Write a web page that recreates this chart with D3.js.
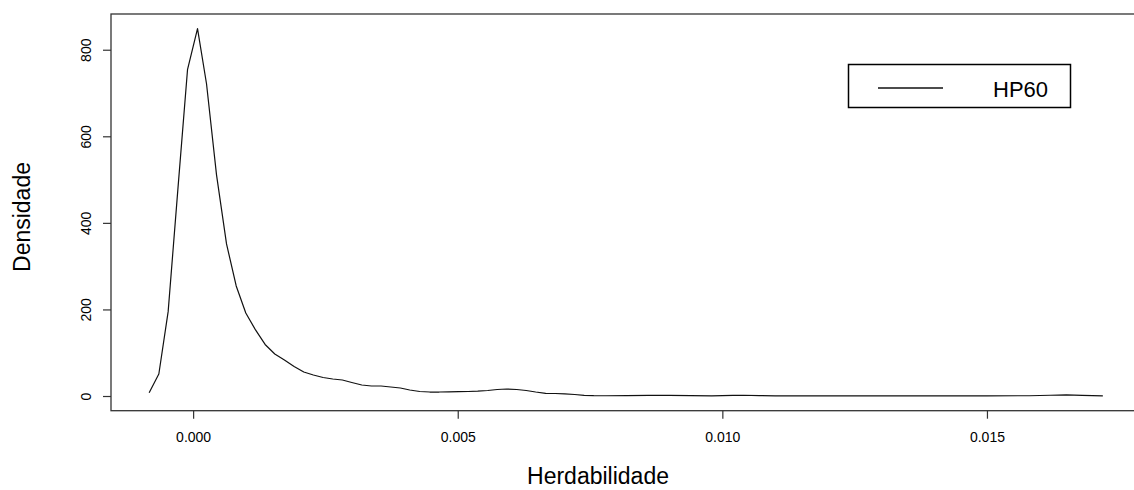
<!DOCTYPE html>
<html>
<head>
<meta charset="utf-8">
<script src="https://cdn.jsdelivr.net/npm/d3@7"></script>
<style>
  html, body { margin: 0; padding: 0; background: #fff; }
  svg text { font-family: "Liberation Sans", Arial, sans-serif; fill: #000; }
</style>
</head>
<body>
<div id="chart"></div>
<script>
// Density estimate of heritability (HP60)
const herdabilidade = [
  -0.000831, -0.000648, -0.000472, -0.000289, -0.000106, 0.000083, 0.000253, 0.000442,
  0.000631, 0.000814, 0.000995, 0.001179, 0.00136, 0.001543, 0.001725, 0.001908,
  0.002091, 0.002272, 0.002456, 0.002639, 0.00282, 0.002998, 0.003187, 0.00337,
  0.003551, 0.003734, 0.003916, 0.004093, 0.004282, 0.004471, 0.004651, 0.00483,
  0.005019, 0.005198, 0.005378, 0.005567, 0.005746, 0.005926, 0.006115, 0.006294,
  0.006473, 0.006662, 0.006842, 0.007021, 0.00721, 0.00739, 0.007569,
  0.0078, 0.0082, 0.0086, 0.009, 0.0094, 0.0098, 0.0102, 0.0104, 0.0107, 0.011,
  0.012, 0.013, 0.014, 0.015, 0.0158, 0.0162, 0.0165, 0.0168, 0.01719
];
const densidade = [
  7.6, 50.9, 194.9, 476.3, 753.8, 848.6, 721.4, 511,
  351.4, 254.3, 191.9, 152.6, 119.1, 97.1, 83.2, 68.2,
  55.5, 48.6, 42.8, 39.3, 37, 31.2, 25.4, 23.1,
  23.1, 20.8, 18.5, 13.9, 10.4, 9.2, 9.2, 9.7,
  9.9, 10.4, 11.1, 12.7, 15, 16.2, 15, 12.7,
  9.2, 6.2, 5.8, 5.1, 3.5, 1.6, 0.7,
  0.6, 1.0, 1.6, 1.4, 0.9, 0.5, 1.5, 1.8, 1.0, 0.4,
  0.5, 0.5, 0.5, 0.5, 0.6, 1.8, 2.5, 1.5, 0.5
];
const xTicks = [0, 0.005, 0.01, 0.015];
const yTicks = [0, 200, 400, 600, 800];
const serieNome = 'HP60';

const width = 1134, height = 490;
const plot = { left: 111, top: 14, right: 1141, bottom: 410.7 };

const svg = d3.select('#chart')
  .append('svg')
  .attr('width', width)
  .attr('height', height)
  .style('display', 'block')
  .style('background', '#fff');

// R-style 4% padding around the data range
function padded(ext) {
  const d = (ext[1] - ext[0]) * 0.04;
  return [ext[0] - d, ext[1] + d];
}

const x = d3.scaleLinear()
  .domain(padded(d3.extent(herdabilidade)))
  .range([plot.left, plot.right]);

const y = d3.scaleLinear()
  .domain(padded([0, d3.max(densidade)]))
  .range([plot.bottom, plot.top]);

// x axis
const xAxis = svg.append('g')
  .attr('transform', 'translate(0,' + plot.bottom + ')')
  .call(d3.axisBottom(x).tickValues(xTicks).tickFormat(d3.format('.3f'))
    .tickSize(8).tickPadding(13));
xAxis.select('.domain').remove();
xAxis.selectAll('line').attr('stroke', '#333').attr('stroke-width', 1.2);
xAxis.selectAll('text')
  .attr('font-size', 14)
  .attr('font-family', '"Liberation Sans", Arial, sans-serif')
  .attr('fill', '#000');

// y axis, labels rotated as in base R
const yAxis = svg.append('g')
  .attr('transform', 'translate(' + plot.left + ',0)')
  .call(d3.axisLeft(y).tickValues(yTicks).tickSize(8));
yAxis.select('.domain').remove();
yAxis.selectAll('line').attr('stroke', '#333').attr('stroke-width', 1.2);
yAxis.selectAll('text')
  .attr('x', null)
  .attr('dy', null)
  .attr('text-anchor', 'middle')
  .attr('transform', 'translate(-20,0) rotate(-90)')
  .attr('font-size', 14)
  .attr('font-family', '"Liberation Sans", Arial, sans-serif')
  .attr('fill', '#000');

// plot box
svg.append('rect')
  .attr('x', plot.left)
  .attr('y', plot.top)
  .attr('width', plot.right - plot.left)
  .attr('height', plot.bottom - plot.top)
  .attr('fill', 'none')
  .attr('stroke', '#333')
  .attr('stroke-width', 1.3);

// density curve
const line = d3.line()
  .x(function(d, i) { return x(herdabilidade[i]); })
  .y(function(d) { return y(d); });

svg.append('path')
  .datum(densidade)
  .attr('d', line)
  .attr('fill', 'none')
  .attr('stroke', '#111')
  .attr('stroke-width', 1.2)
  .attr('stroke-linejoin', 'round');

// axis titles
svg.append('text')
  .attr('x', 598)
  .attr('y', 484)
  .attr('text-anchor', 'middle')
  .attr('font-size', 23)
  .text('Herdabilidade');

svg.append('text')
  .attr('transform', 'translate(30,217) rotate(-90)')
  .attr('text-anchor', 'middle')
  .attr('font-size', 23)
  .text('Densidade');

// legend
const legend = svg.append('g');
legend.append('rect')
  .attr('x', 848.5)
  .attr('y', 64.5)
  .attr('width', 222)
  .attr('height', 43)
  .attr('fill', '#fff')
  .attr('stroke', '#000')
  .attr('stroke-width', 1.5);
legend.append('line')
  .attr('x1', 878)
  .attr('x2', 943)
  .attr('y1', 88)
  .attr('y2', 88)
  .attr('stroke', '#111')
  .attr('stroke-width', 1.5);
legend.append('text')
  .attr('x', 993)
  .attr('y', 97)
  .attr('font-size', 22)
  .text(serieNome);
</script>
</body>
</html>
